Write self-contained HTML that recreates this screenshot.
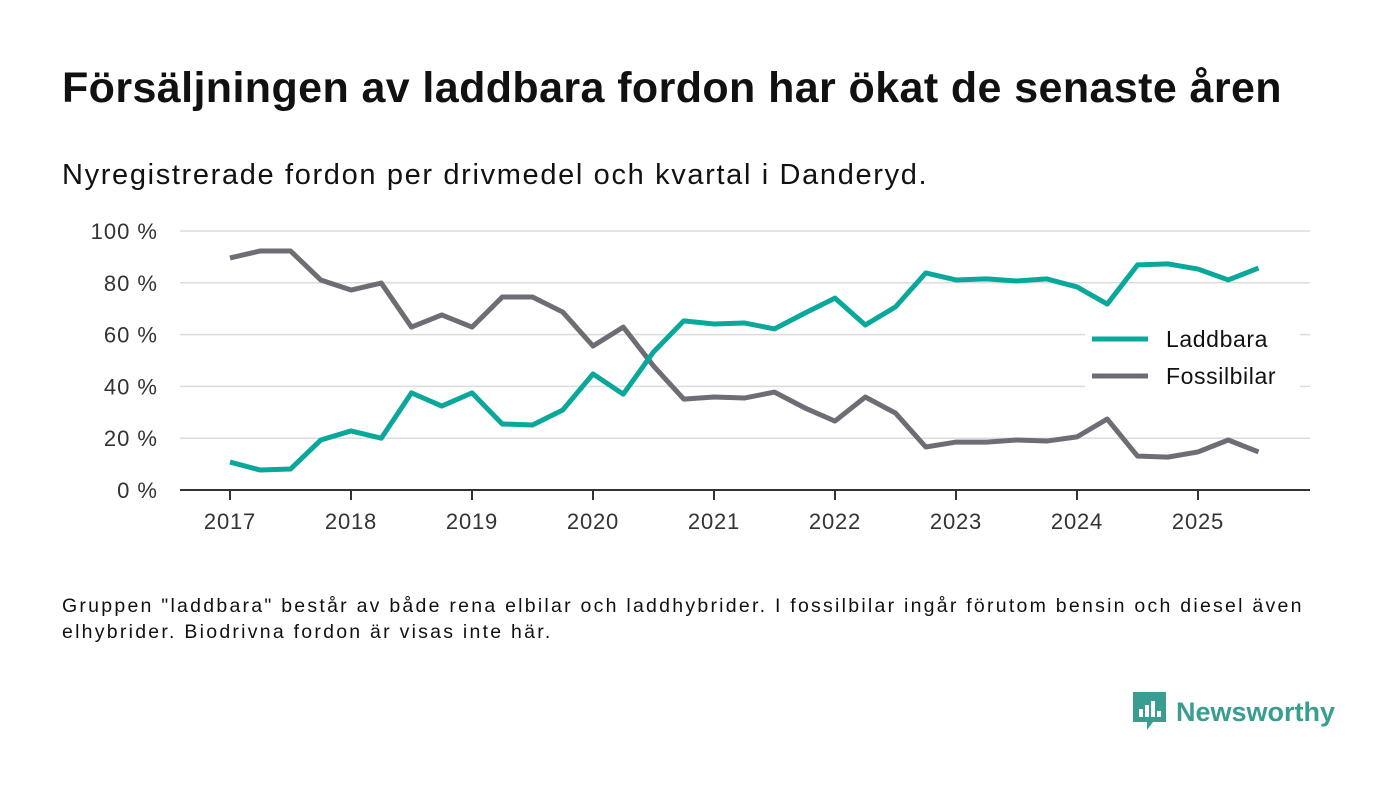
<!DOCTYPE html>
<html><head><meta charset="utf-8"><style>
body{margin:0;width:1400px;height:793px;background:#fff;font-family:"Liberation Sans","DejaVu Sans",sans-serif;overflow:hidden;position:relative}
h1{position:absolute;left:62px;top:64px;margin:0;font-size:43px;font-weight:bold;color:#111;letter-spacing:0.4px;white-space:nowrap}
.sub{position:absolute;left:62px;top:159px;font-size:29px;color:#111;letter-spacing:1.65px;white-space:nowrap}
.note{position:absolute;left:62px;top:593px;font-size:19.5px;line-height:26px;color:#111;width:1275px;letter-spacing:2.25px}
.logo{position:absolute;left:1133px;top:692px;display:flex;align-items:center}
.logo span{font-size:27px;font-weight:bold;color:#3a9d92;margin-left:10px}
</style></head><body>
<h1>Försäljningen av laddbara fordon har ökat de senaste åren</h1>
<div class="sub">Nyregistrerade fordon per drivmedel och kvartal i Danderyd.</div>
<svg id="chart" width="1400" height="793" style="position:absolute;left:0;top:0"></svg>
<div class="note">Gruppen "laddbara" består av både rena elbilar och laddhybrider. I fossilbilar ingår förutom bensin och diesel även elhybrider. Biodrivna fordon är visas inte här.</div>
<div class="logo">
<svg width="33" height="40" viewBox="0 0 33 40"><path d="M0 0H33V30H20L14 38V30H0Z" fill="#3a9d92"/><rect x="6" y="17" width="4" height="8" fill="#fff"/><rect x="12" y="13" width="4" height="12" fill="#fff"/><rect x="18" y="9" width="4" height="16" fill="#fff"/><rect x="24" y="19" width="4" height="6" fill="#fff"/></svg>
<span>Newsworthy</span></div>
<script>
const years=["2017","2018","2019","2020","2021","2022","2023","2024","2025"];
const yTicks=[0,20,40,60,80,100];
const laddbara=[10.8,7.7,8.1,19.3,22.8,20,37.5,32.4,37.5,25.5,25.1,30.9,44.8,37,53.3,65.3,64.1,64.5,62.2,68.3,74.1,63.7,70.7,83.8,81.1,81.5,80.7,81.5,78.4,71.8,86.9,87.3,85.3,81.1,85.7];
const fossil=[89.6,92.3,92.3,81.1,77.2,79.9,62.9,67.6,62.9,74.5,74.5,68.7,55.6,62.9,47.9,35.1,35.9,35.5,37.8,31.7,26.6,35.9,29.7,16.6,18.5,18.5,19.3,18.9,20.5,27.4,13.1,12.7,14.7,19.3,14.7];
const svg=document.getElementById('chart');
const NS='http://www.w3.org/2000/svg';
const x=q=>230+q*30.25, y=v=>490-v*2.59;
function mk(t,a){const e=document.createElementNS(NS,t);for(const k in a)e.setAttribute(k,a[k]);svg.appendChild(e);return e;}
yTicks.forEach(v=>{
 const l=mk('line',{x1:180,x2:1310,y1:y(v),y2:y(v),stroke:v?'#dcdcdc':'#333','stroke-width':v?1.5:2});
 
 
 const t=mk('text',{x:158,y:y(v)+8,'text-anchor':'end','font-size':22,'letter-spacing':1,fill:'#333','font-family':'Liberation Sans, sans-serif'});
 t.textContent=v+' %';
 
 
});
years.forEach((yr,i)=>{
 const tk=mk('line',{x1:x(i*4),x2:x(i*4),y1:490,y2:500,stroke:'#333','stroke-width':2});
 
 
 const t=mk('text',{x:x(i*4),y:529,'text-anchor':'middle','font-size':22,'letter-spacing':0.8,fill:'#333','font-family':'Liberation Sans, sans-serif'});
 t.textContent=yr;
 
 
});
[[fossil,'#6e6d75','fossilbilar-line'],[laddbara,'#0aa89b','laddbara-line']].forEach(([d,c,n])=>{
 const p=mk('polyline',{points:d.map((v,i)=>x(i)+','+y(v)).join(' '),fill:'none',stroke:c,'stroke-width':5,'stroke-linejoin':'round'});
 
 
});
mk('rect',{x:1085,y:318,width:215,height:78,fill:'#fff'});
[['Laddbara','#0aa89b',339],['Fossilbilar','#6e6d75',376]].forEach(([t,c,yy])=>{
 const l=mk('line',{x1:1092,x2:1148,y1:yy,y2:yy,stroke:c,'stroke-width':5});
 
 
 const tx=mk('text',{x:1166,y:yy+8,'font-size':23,'letter-spacing':0.6,fill:'#111','font-family':'Liberation Sans, sans-serif'});
 tx.textContent=t;
 
 
});
</script>
</body></html>
